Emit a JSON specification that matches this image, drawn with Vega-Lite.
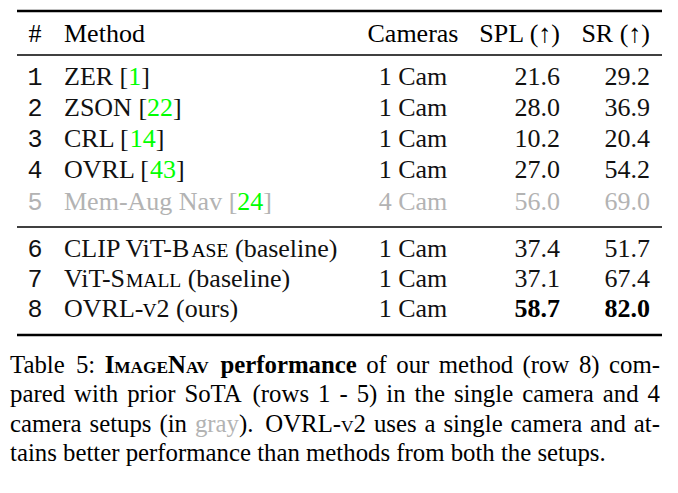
{
  "$schema": "https://vega.github.io/schema/vega-lite/v6.json",
  "width": 678,
  "height": 493,
  "padding": 0,
  "autosize": {"type": "none"},
  "background": "white",
  "config": {"view": {"stroke": null}, "text": {"font": "Liberation Serif"}},
  "datasets": {
    "rules": [
      {"line": 0, "slot": 5, "slotEnd": 6, "weight": "heavy"},
      {"line": 2, "slot": 5, "slotEnd": 6, "weight": "light"},
      {"line": 8, "slot": 5, "slotEnd": 6, "weight": "light"},
      {"line": 12, "slot": 5, "slotEnd": 6, "weight": "heavy"}
    ],
    "cells": [
      {"line": 1, "slot": 0, "text": "#", "kind": "header", "setup": "single"},
      {"line": 1, "slot": 1, "text": "Method", "kind": "header", "setup": "single"},
      {"line": 1, "slot": 2, "text": "Cameras", "kind": "header", "setup": "single"},
      {"line": 1, "slot": 3, "text": "SPL (↑)", "kind": "header", "setup": "single"},
      {"line": 1, "slot": 4, "text": "SR (↑)", "kind": "header", "setup": "single"},

      {"line": 3, "slot": 0, "text": "1", "kind": "index", "setup": "single"},
      {"line": 3, "slot": 1, "text": "ZER [", "kind": "name", "setup": "single"},
      {"line": 3, "slot": 53, "text": "1", "kind": "ref", "setup": "single"},
      {"line": 3, "slot": 54, "text": "]", "kind": "name", "setup": "single"},
      {"line": 3, "slot": 2, "text": "1 Cam", "kind": "camera", "setup": "single"},
      {"line": 3, "slot": 3, "text": "21.6", "kind": "value", "setup": "single"},
      {"line": 3, "slot": 4, "text": "29.2", "kind": "value", "setup": "single"},

      {"line": 4, "slot": 0, "text": "2", "kind": "index", "setup": "single"},
      {"line": 4, "slot": 1, "text": "ZSON [", "kind": "name", "setup": "single"},
      {"line": 4, "slot": 55, "text": "22", "kind": "ref", "setup": "single"},
      {"line": 4, "slot": 56, "text": "]", "kind": "name", "setup": "single"},
      {"line": 4, "slot": 2, "text": "1 Cam", "kind": "camera", "setup": "single"},
      {"line": 4, "slot": 3, "text": "28.0", "kind": "value", "setup": "single"},
      {"line": 4, "slot": 4, "text": "36.9", "kind": "value", "setup": "single"},

      {"line": 5, "slot": 0, "text": "3", "kind": "index", "setup": "single"},
      {"line": 5, "slot": 1, "text": "CRL [", "kind": "name", "setup": "single"},
      {"line": 5, "slot": 57, "text": "14", "kind": "ref", "setup": "single"},
      {"line": 5, "slot": 58, "text": "]", "kind": "name", "setup": "single"},
      {"line": 5, "slot": 2, "text": "1 Cam", "kind": "camera", "setup": "single"},
      {"line": 5, "slot": 3, "text": "10.2", "kind": "value", "setup": "single"},
      {"line": 5, "slot": 4, "text": "20.4", "kind": "value", "setup": "single"},

      {"line": 6, "slot": 0, "text": "4", "kind": "index", "setup": "single"},
      {"line": 6, "slot": 1, "text": "OVRL [", "kind": "name", "setup": "single"},
      {"line": 6, "slot": 59, "text": "43", "kind": "ref", "setup": "single"},
      {"line": 6, "slot": 60, "text": "]", "kind": "name", "setup": "single"},
      {"line": 6, "slot": 2, "text": "1 Cam", "kind": "camera", "setup": "single"},
      {"line": 6, "slot": 3, "text": "27.0", "kind": "value", "setup": "single"},
      {"line": 6, "slot": 4, "text": "54.2", "kind": "value", "setup": "single"},

      {"line": 7, "slot": 0, "text": "5", "kind": "index", "setup": "multi"},
      {"line": 7, "slot": 1, "text": "Mem-Aug Nav [", "kind": "name", "setup": "multi"},
      {"line": 7, "slot": 61, "text": "24", "kind": "ref", "setup": "multi"},
      {"line": 7, "slot": 62, "text": "]", "kind": "name", "setup": "multi"},
      {"line": 7, "slot": 2, "text": "4 Cam", "kind": "camera", "setup": "multi"},
      {"line": 7, "slot": 3, "text": "56.0", "kind": "value", "setup": "multi"},
      {"line": 7, "slot": 4, "text": "69.0", "kind": "value", "setup": "multi"},

      {"line": 9, "slot": 0, "text": "6", "kind": "index", "setup": "single"},
      {"line": 9, "slot": 1, "text": "CLIP ViT-B", "kind": "name", "setup": "single"},
      {"line": 9, "slot": 7, "text": "ASE", "kind": "smallcap", "setup": "single"},
      {"line": 9, "slot": 8, "text": "(baseline)", "kind": "name", "setup": "single"},
      {"line": 9, "slot": 2, "text": "1 Cam", "kind": "camera", "setup": "single"},
      {"line": 9, "slot": 3, "text": "37.4", "kind": "value", "setup": "single"},
      {"line": 9, "slot": 4, "text": "51.7", "kind": "value", "setup": "single"},

      {"line": 10, "slot": 0, "text": "7", "kind": "index", "setup": "single"},
      {"line": 10, "slot": 1, "text": "ViT-S", "kind": "name", "setup": "single"},
      {"line": 10, "slot": 9, "text": "MALL", "kind": "smallcap", "setup": "single"},
      {"line": 10, "slot": 10, "text": "(baseline)", "kind": "name", "setup": "single"},
      {"line": 10, "slot": 2, "text": "1 Cam", "kind": "camera", "setup": "single"},
      {"line": 10, "slot": 3, "text": "37.1", "kind": "value", "setup": "single"},
      {"line": 10, "slot": 4, "text": "67.4", "kind": "value", "setup": "single"},

      {"line": 11, "slot": 0, "text": "8", "kind": "index", "setup": "single"},
      {"line": 11, "slot": 1, "text": "OVRL-", "kind": "name", "setup": "single"},
      {"line": 11, "slot": 11, "text": "V", "kind": "smallcap", "setup": "single"},
      {"line": 11, "slot": 12, "text": "2", "kind": "name", "setup": "single"},
      {"line": 11, "slot": 13, "text": "(ours)", "kind": "name", "setup": "single"},
      {"line": 11, "slot": 2, "text": "1 Cam", "kind": "camera", "setup": "single"},
      {"line": 11, "slot": 3, "text": "58.7", "kind": "best", "setup": "single"},
      {"line": 11, "slot": 4, "text": "82.0", "kind": "best", "setup": "single"},

      {"line": 13, "slot": 14, "text": "Table", "kind": "caption"},
      {"line": 13, "slot": 15, "text": "5:", "kind": "caption"},
      {"line": 13, "slot": 16, "text": "I", "kind": "caption-strong"},
      {"line": 13, "slot": 17, "text": "MAGE", "kind": "caption-strong-smallcap"},
      {"line": 13, "slot": 18, "text": "N", "kind": "caption-strong"},
      {"line": 13, "slot": 19, "text": "AV", "kind": "caption-strong-smallcap"},
      {"line": 13, "slot": 20, "text": "performance", "kind": "caption-strong"},
      {"line": 13, "slot": 21, "text": "of", "kind": "caption"},
      {"line": 13, "slot": 22, "text": "our", "kind": "caption"},
      {"line": 13, "slot": 23, "text": "method", "kind": "caption"},
      {"line": 13, "slot": 24, "text": "(row", "kind": "caption"},
      {"line": 13, "slot": 25, "text": "8)", "kind": "caption"},
      {"line": 13, "slot": 26, "text": "com-", "kind": "caption"},

      {"line": 14, "slot": 14, "text": "pared", "kind": "caption"},
      {"line": 14, "slot": 27, "text": "with", "kind": "caption"},
      {"line": 14, "slot": 28, "text": "prior", "kind": "caption"},
      {"line": 14, "slot": 29, "text": "SoTA", "kind": "caption"},
      {"line": 14, "slot": 30, "text": "(rows", "kind": "caption"},
      {"line": 14, "slot": 31, "text": "1", "kind": "caption"},
      {"line": 14, "slot": 32, "text": "-", "kind": "caption"},
      {"line": 14, "slot": 33, "text": "5)", "kind": "caption"},
      {"line": 14, "slot": 34, "text": "in", "kind": "caption"},
      {"line": 14, "slot": 35, "text": "the", "kind": "caption"},
      {"line": 14, "slot": 36, "text": "single", "kind": "caption"},
      {"line": 14, "slot": 37, "text": "camera", "kind": "caption"},
      {"line": 14, "slot": 38, "text": "and", "kind": "caption"},
      {"line": 14, "slot": 39, "text": "4", "kind": "caption"},

      {"line": 15, "slot": 14, "text": "camera", "kind": "caption"},
      {"line": 15, "slot": 40, "text": "setups", "kind": "caption"},
      {"line": 15, "slot": 41, "text": "(in", "kind": "caption"},
      {"line": 15, "slot": 42, "text": "gray", "kind": "caption-gray"},
      {"line": 15, "slot": 43, "text": ").", "kind": "caption"},
      {"line": 15, "slot": 44, "text": "OVRL-", "kind": "caption"},
      {"line": 15, "slot": 45, "text": "V", "kind": "caption-smallcap"},
      {"line": 15, "slot": 46, "text": "2", "kind": "caption"},
      {"line": 15, "slot": 47, "text": "uses", "kind": "caption"},
      {"line": 15, "slot": 48, "text": "a", "kind": "caption"},
      {"line": 15, "slot": 49, "text": "single", "kind": "caption"},
      {"line": 15, "slot": 50, "text": "camera", "kind": "caption"},
      {"line": 15, "slot": 51, "text": "and", "kind": "caption"},
      {"line": 15, "slot": 52, "text": "at-", "kind": "caption"},

      {"line": 16, "slot": 14, "text": "tains better performance than methods from both the setups.", "kind": "caption"}
    ]
  },
  "encoding": {
    "x": {
      "field": "slot",
      "type": "quantitative",
      "axis": null,
      "scale": {
        "zero": false,
        "nice": false,
        "domain": [0,1,2,3,4,5,6,7,8,9,10,11,12,13,14,15,16,17,18,19,20,21,22,23,24,25,26,27,28,29,30,31,32,33,34,35,36,37,38,39,40,41,42,43,44,45,46,47,48,49,50,51,52,53,54,55,56,57,58,59,60,61,62],
        "range": [35,64,413,560,650,17,662,191.5,235,126,187.7,142.5,156.6,176.1,10,75.9,104.7,114.3,168.1,186,220.5,366.2,396.3,438.8,522.6,578.9,609,74.1,127.2,184.4,252.6,318.1,339.4,356.7,386.3,414.6,453.9,522.2,602.8,647.6,89.5,159.4,194.9,239,265.3,341.1,353.6,373.9,424.5,443.4,510.6,590.1,633.8,128.3,141.3,147.0,173.0,129.7,155.7,149.9,175.9,237.3,263.3]
      }
    },
    "y": {
      "field": "line",
      "type": "quantitative",
      "axis": null,
      "scale": {
        "zero": false,
        "nice": false,
        "domain": [0,1,2,3,4,5,6,7,8,9,10,11,12,13,14,15,16],
        "range": [11,42,55,85,116,147,178,210,227,257,287,317,335,373,402,432,461]
      }
    }
  },
  "layer": [
    {
      "data": {"name": "rules"},
      "transform": [{"filter": {"field": "weight", "equal": "heavy"}}],
      "mark": {"type": "rule", "strokeWidth": 2.3, "color": "#000000", "strokeCap": "butt"},
      "encoding": {"x2": {"field": "slotEnd"}}
    },
    {
      "data": {"name": "rules"},
      "transform": [{"filter": {"field": "weight", "equal": "light"}}],
      "mark": {"type": "rule", "strokeWidth": 1.5, "color": "#000000", "strokeCap": "butt"},
      "encoding": {"x2": {"field": "slotEnd"}}
    },
    {
      "data": {"name": "cells"},
      "transform": [{"filter": {"field": "kind", "equal": "index"}}],
      "mark": {"type": "text", "font": "Liberation Mono", "fontSize": 25, "align": "center", "baseline": "alphabetic"},
      "encoding": {
        "text": {"field": "text"},
        "color": {"field": "setup", "type": "nominal", "legend": null, "scale": {"domain": ["single", "multi"], "range": ["#111111", "#b3b3b3"]}}
      }
    },
    {
      "data": {"name": "cells"},
      "transform": [{"filter": "datum.kind === 'header' && (datum.slot === 0 || datum.slot === 2)"}],
      "mark": {"type": "text", "fontSize": 26, "align": "center", "baseline": "alphabetic", "color": "#000000"},
      "encoding": {"text": {"field": "text"}}
    },
    {
      "data": {"name": "cells"},
      "transform": [{"filter": "datum.kind === 'header' && datum.slot === 1"}],
      "mark": {"type": "text", "fontSize": 26, "align": "left", "baseline": "alphabetic", "color": "#000000"},
      "encoding": {"text": {"field": "text"}}
    },
    {
      "data": {"name": "cells"},
      "transform": [{"filter": "datum.kind === 'header' && (datum.slot === 3 || datum.slot === 4)"}],
      "mark": {"type": "text", "fontSize": 26, "align": "right", "baseline": "alphabetic", "color": "#000000"},
      "encoding": {"text": {"field": "text"}}
    },
    {
      "data": {"name": "cells"},
      "transform": [{"filter": {"field": "kind", "equal": "name"}}],
      "mark": {"type": "text", "fontSize": 26, "align": "left", "baseline": "alphabetic"},
      "encoding": {
        "text": {"field": "text"},
        "color": {"field": "setup", "type": "nominal", "legend": null, "scale": {"domain": ["single", "multi"], "range": ["#000000", "#b3b3b3"]}}
      }
    },
    {
      "data": {"name": "cells"},
      "transform": [{"filter": {"field": "kind", "equal": "ref"}}],
      "mark": {"type": "text", "fontSize": 26, "align": "left", "baseline": "alphabetic", "color": "#00ff00"},
      "encoding": {"text": {"field": "text"}}
    },
    {
      "data": {"name": "cells"},
      "transform": [{"filter": {"field": "kind", "equal": "smallcap"}}],
      "mark": {"type": "text", "fontSize": 19.5, "align": "left", "baseline": "alphabetic", "color": "#000000"},
      "encoding": {"text": {"field": "text"}}
    },
    {
      "data": {"name": "cells"},
      "transform": [{"filter": {"field": "kind", "equal": "camera"}}],
      "mark": {"type": "text", "fontSize": 26, "align": "center", "baseline": "alphabetic"},
      "encoding": {
        "text": {"field": "text"},
        "color": {"field": "setup", "type": "nominal", "legend": null, "scale": {"domain": ["single", "multi"], "range": ["#000000", "#b3b3b3"]}}
      }
    },
    {
      "data": {"name": "cells"},
      "transform": [{"filter": {"field": "kind", "equal": "value"}}],
      "mark": {"type": "text", "fontSize": 26, "align": "right", "baseline": "alphabetic"},
      "encoding": {
        "text": {"field": "text"},
        "color": {"field": "setup", "type": "nominal", "legend": null, "scale": {"domain": ["single", "multi"], "range": ["#000000", "#b3b3b3"]}}
      }
    },
    {
      "data": {"name": "cells"},
      "transform": [{"filter": {"field": "kind", "equal": "best"}}],
      "mark": {"type": "text", "fontSize": 26, "fontWeight": "bold", "align": "right", "baseline": "alphabetic", "color": "#000000"},
      "encoding": {"text": {"field": "text"}}
    },
    {
      "data": {"name": "cells"},
      "transform": [{"filter": {"field": "kind", "equal": "caption"}}],
      "mark": {"type": "text", "fontSize": 24.8, "align": "left", "baseline": "alphabetic", "color": "#000000"},
      "encoding": {"text": {"field": "text"}}
    },
    {
      "data": {"name": "cells"},
      "transform": [{"filter": {"field": "kind", "equal": "caption-strong"}}],
      "mark": {"type": "text", "fontSize": 24.8, "fontWeight": "bold", "align": "left", "baseline": "alphabetic", "color": "#000000"},
      "encoding": {"text": {"field": "text"}}
    },
    {
      "data": {"name": "cells"},
      "transform": [{"filter": {"field": "kind", "equal": "caption-strong-smallcap"}}],
      "mark": {"type": "text", "fontSize": 17.3, "fontWeight": "bold", "align": "left", "baseline": "alphabetic", "color": "#000000"},
      "encoding": {"text": {"field": "text"}}
    },
    {
      "data": {"name": "cells"},
      "transform": [{"filter": {"field": "kind", "equal": "caption-smallcap"}}],
      "mark": {"type": "text", "fontSize": 17.3, "align": "left", "baseline": "alphabetic", "color": "#000000"},
      "encoding": {"text": {"field": "text"}}
    },
    {
      "data": {"name": "cells"},
      "transform": [{"filter": {"field": "kind", "equal": "caption-gray"}}],
      "mark": {"type": "text", "fontSize": 24.8, "align": "left", "baseline": "alphabetic", "color": "#b3b3b3"},
      "encoding": {"text": {"field": "text"}}
    }
  ]
}
